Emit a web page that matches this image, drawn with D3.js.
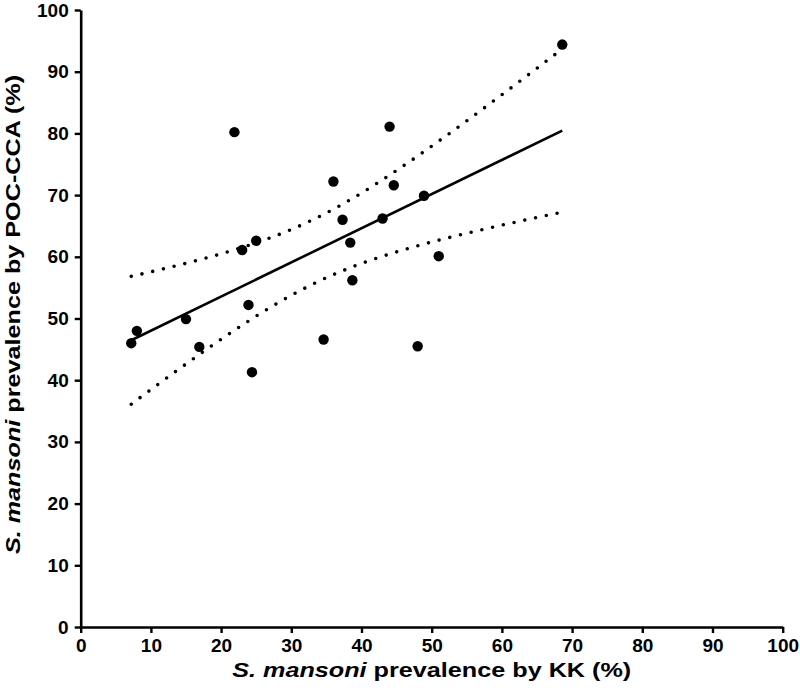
<!DOCTYPE html>
<html>
<head>
<meta charset="utf-8">
<script src="https://cdn.jsdelivr.net/npm/d3@7"></script>
<style>
  html, body { margin: 0; padding: 0; background: #fff; }
  svg { display: block; }
  text { font-family: "Liberation Sans", Arial, sans-serif; font-weight: bold; fill: #000; }
</style>
</head>
<body>
<svg id="chart" width="800" height="696"></svg>
<script>
// KK prevalence (%) per site
const kk  = [7.2, 8.0, 15.0, 16.9, 21.9, 23.0, 23.9, 24.4, 25.0, 34.6, 36.0,
             37.3, 38.4, 38.7, 43.0, 44.0, 44.6, 48.0, 48.9, 51.0, 68.6];
// POC-CCA prevalence (%) per site
const poc = [46.0, 48.0, 49.9, 45.4, 80.2, 61.1, 52.2, 41.3, 62.6, 46.6, 72.2,
             66.0, 62.3, 56.2, 66.2, 81.1, 71.6, 45.5, 69.9, 60.1, 94.4];
const xTicks = [0, 10, 20, 30, 40, 50, 60, 70, 80, 90, 100];
const yTicks = [0, 10, 20, 30, 40, 50, 60, 70, 80, 90, 100];
const xTitleItalic = "S. mansoni";
const xTitleRest = " prevalence by KK (%)";
const yTitleItalic = "S. mansoni";
const yTitleRest = " prevalence by POC-CCA (%)";

const svg = d3.select("#chart");
const x = d3.scaleLinear().domain([0, 100]).range([80.7, 782.7]);
const y = d3.scaleLinear().domain([0, 100]).range([627, 10]);

// Linear regression and 95% confidence band of the fitted mean
const n = kk.length;
const mx = d3.mean(kk), my = d3.mean(poc);
let sxx = 0, sxy = 0;
kk.forEach((v, i) => { sxx += (v - mx) ** 2; sxy += (v - mx) * (poc[i] - my); });
const slope = sxy / sxx, icpt = my - slope * mx;
let sse = 0;
kk.forEach((v, i) => { sse += (poc[i] - (icpt + slope * v)) ** 2; });
const s = Math.sqrt(sse / (n - 2));
const tval = 2.093; // t(0.975, df=19)
const x0 = d3.min(kk), x1 = d3.max(kk);
const xs = d3.range(0, 61).map(i => x0 + (x1 - x0) * i / 60);
const band = xs.map(v => {
  const f = icpt + slope * v;
  const h = tval * s * Math.sqrt(1 / n + (v - mx) ** 2 / sxx);
  return { x: v, lo: f - h, hi: f + h };
});

const line = d3.line().x(d => x(d[0])).y(d => y(d[1]));
const g = svg.append("g");

// CI curves (dotted)
["lo", "hi"].forEach(k => {
  g.append("path")
    .attr("d", line(band.map(d => [d.x, d[k]])))
    .attr("fill", "none").attr("stroke", "#000")
    .attr("stroke-width", 3.6)
    .attr("stroke-linecap", "round")
    .attr("stroke-dasharray", "0,11");
});

// Regression line
g.append("path")
  .attr("d", line([[x0, icpt + slope * x0], [x1, icpt + slope * x1]]))
  .attr("fill", "none").attr("stroke", "#000").attr("stroke-width", 2.6);

// Points
g.selectAll("circle").data(kk.map((v, i) => [v, poc[i]])).join("circle")
  .attr("cx", d => x(d[0])).attr("cy", d => y(d[1])).attr("r", 5.2).attr("fill", "#000");

// Axes
const xAxis = svg.append("g").attr("transform", `translate(0,${y(0)})`)
  .call(d3.axisBottom(x).tickValues(xTicks).tickSize(6).tickSizeOuter(0).tickPadding(6));
const yAxis = svg.append("g").attr("transform", `translate(${x(0)},0)`)
  .call(d3.axisLeft(y).tickValues(yTicks).tickSize(6).tickSizeOuter(0).tickPadding(6));
[xAxis, yAxis].forEach(a => {
  a.select(".domain").attr("stroke", "#000").attr("stroke-width", 2.6);
  a.selectAll(".tick line").attr("stroke", "#000").attr("stroke-width", 2.4);
  a.selectAll(".tick text").style("font-size", "19px").style("font-family", '"Liberation Sans", Arial, sans-serif').style("font-weight", "bold").attr("fill", "#000");
});

// Axis titles (horizontally widened like the reference lettering)
const xt = svg.append("text")
  .attr("transform", `translate(${(x(0) + x(100)) / 2},677) scale(1.2,1)`)
  .attr("text-anchor", "middle").style("font-size", "21px");
xt.append("tspan").style("font-style", "italic").text(xTitleItalic);
xt.append("tspan").text(xTitleRest);

const yt = svg.append("text")
  .attr("transform", `translate(19.5,${(y(0) + y(100)) / 2 - 4}) rotate(-90) scale(1.2,1)`)
  .attr("text-anchor", "middle").style("font-size", "21px");
yt.append("tspan").style("font-style", "italic").text(yTitleItalic);
yt.append("tspan").text(yTitleRest);
</script>
</body>
</html>
